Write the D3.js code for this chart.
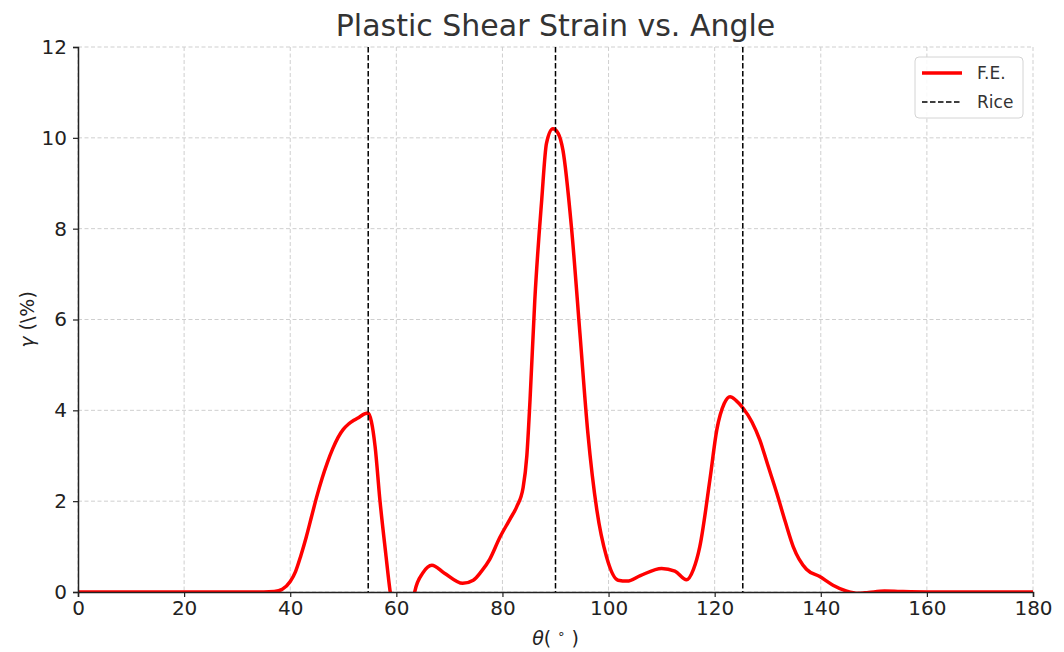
<!DOCTYPE html>
<html>
<head>
<meta charset="utf-8">
<script src="https://cdn.jsdelivr.net/npm/d3@7"></script>
<style>
  body { margin: 0; background: #fff; }
  text { font-family: "DejaVu Sans", sans-serif; }
</style>
</head>
<body>
<script>
const width = 1064,
  height = 652;

const margin = { top: 47, right: 31, bottom: 60, left: 78 };
const innerWidth = width - margin.left - margin.right;
const innerHeight = height - margin.top - margin.bottom;

// F.E. curve (angle in degrees, gamma in %)
const feAngle = [0, 10, 20, 30, 35, 37, 38.5, 40, 41, 42, 43, 44, 45, 46, 47, 48, 49, 50, 51, 52, 53, 54, 54.7, 55.3, 56, 56.9, 58, 58.8, 60, 61.5, 62.8, 63.5, 65, 66.7, 69, 72.5, 74.5, 76, 77.6, 79.5, 81.4, 82.7, 83.9, 84.6, 85.2, 86.1, 87.4, 88.3, 89.5, 90.5, 91.4, 93, 94.6, 96.1, 97.8, 99.6, 101.8, 103.5, 106, 110, 112.5, 114.7, 116, 117.2, 119.1, 120.4, 121.8, 122.9, 124, 125.4, 127, 128.5, 130, 131.7, 133.3, 134.8, 137.3, 139.8, 142.3, 144.9, 147, 149, 152, 155, 160, 170, 180];
const feGamma = [0, 0, 0, 0, 0, 0.01, 0.06, 0.23, 0.45, 0.8, 1.2, 1.65, 2.1, 2.5, 2.85, 3.15, 3.4, 3.58, 3.7, 3.78, 3.85, 3.92, 3.94, 3.75, 3.2, 2.03, 0.85, 0.04, -0.7, -0.9, -0.5, 0.02, 0.42, 0.59, 0.42, 0.19, 0.26, 0.45, 0.72, 1.2, 1.6, 1.88, 2.3, 3.0, 4.23, 6.43, 8.63, 9.88, 10.2, 10.1, 9.73, 8.04, 5.7, 3.5, 1.8, 0.78, 0.26, 0.24, 0.36, 0.52, 0.46, 0.27, 0.5, 1.0, 2.47, 3.57, 4.15, 4.3, 4.22, 4.04, 3.75, 3.35, 2.8, 2.18, 1.55, 1.0, 0.5, 0.34, 0.15, 0.02, -0.03, -0.01, 0.02, 0.01, 0, 0, 0];

// Rice predictions (vertical lines)
const riceAngles = [54.7, 90, 125.3];

const xTicks = [0, 20, 40, 60, 80, 100, 120, 140, 160, 180];
const yTicks = [0, 2, 4, 6, 8, 10, 12];

const svg = d3
  .select("body")
  .append("svg")
  .attr("width", width)
  .attr("height", height);

const mainG = svg
  .append("g")
  .attr("transform", `translate(${margin.left}, ${margin.top})`);

const xScale = d3.scaleLinear().domain([0, 180]).range([0, innerWidth]);
const yScale = d3.scaleLinear().domain([0, 12]).range([innerHeight, 0]);

// grid
mainG
  .append("g")
  .selectAll("line")
  .data(xTicks)
  .join("line")
  .attr("x1", d => xScale(d))
  .attr("x2", d => xScale(d))
  .attr("y1", 0)
  .attr("y2", innerHeight)
  .attr("stroke", "#cfcfcf")
  .attr("stroke-dasharray", "4,2.5");

mainG
  .append("g")
  .selectAll("line")
  .data(yTicks)
  .join("line")
  .attr("x1", 0)
  .attr("x2", innerWidth)
  .attr("y1", d => yScale(d))
  .attr("y2", d => yScale(d))
  .attr("stroke", "#cfcfcf")
  .attr("stroke-dasharray", "4,2.5");

svg
  .append("defs")
  .append("clipPath")
  .attr("id", "clip")
  .append("rect")
  .attr("width", innerWidth)
  .attr("height", innerHeight);

const plotG = mainG.append("g").attr("clip-path", "url(#clip)");

const feData = feAngle.map((a, i) => ({ a: a, g: feGamma[i] }));

const line = d3
  .line()
  .x(d => xScale(d.a))
  .y(d => yScale(d.g))
  .curve(d3.curveMonotoneX);

plotG
  .append("path")
  .datum(feData)
  .attr("d", line)
  .attr("fill", "none")
  .attr("stroke", "#ff0000")
  .attr("stroke-width", 3.5)
  .attr("stroke-linejoin", "round");

plotG
  .selectAll(".rice")
  .data(riceAngles)
  .join("line")
  .attr("class", "rice")
  .attr("x1", d => xScale(d))
  .attr("x2", d => xScale(d))
  .attr("y1", 0)
  .attr("y2", innerHeight)
  .attr("stroke", "#000")
  .attr("stroke-width", 1.5)
  .attr("stroke-dasharray", "5.5,2.5");

// axes
const xAxis = d3.axisBottom(xScale).tickValues(xTicks).tickSize(5).tickPadding(4);
const yAxis = d3.axisLeft(yScale).tickValues(yTicks).tickSize(5).tickPadding(6);

const gx = mainG
  .append("g")
  .attr("id", "x-axis")
  .attr("transform", `translate(0,${innerHeight})`)
  .call(xAxis);

const gy = mainG.append("g").attr("id", "y-axis").call(yAxis);

[gx, gy].forEach(g => {
  g.attr("fill", null).attr("font-size", null).attr("font-family", null);
  g.select(".domain").attr("fill", "none").attr("stroke", "#222").attr("stroke-width", 1.5);
  g.selectAll(".tick line").attr("stroke", "#222").attr("stroke-width", 1.2);
  g.selectAll(".tick text")
    .attr("fill", "#222")
    .attr("font-size", 20);
});

// axis labels
const xLabel = mainG
  .append("text")
  .attr("x", innerWidth / 2)
  .attr("y", innerHeight + 53)
  .attr("text-anchor", "middle")
  .attr("font-size", 19)
  .attr("fill", "#222");
xLabel.append("tspan").attr("font-style", "italic").text("θ");
xLabel.append("tspan").text("( ");
xLabel.append("tspan").attr("font-size", 13).attr("dy", -7).text("∘");
xLabel.append("tspan").attr("dy", 7).text(" )");

const yLabel = mainG
  .append("text")
  .attr("transform", `translate(-44,${innerHeight / 2}) rotate(-90)`)
  .attr("text-anchor", "middle")
  .attr("font-size", 19)
  .attr("fill", "#222");
yLabel.append("tspan").attr("font-style", "italic").text("γ");
yLabel.append("tspan").text(" (\\%)");

// title
svg
  .append("text")
  .attr("x", margin.left + innerWidth / 2)
  .attr("y", 36)
  .attr("text-anchor", "middle")
  .attr("font-size", 30)
  .attr("fill", "#333")
  .text("Plastic Shear Strain vs. Angle");

// legend
const legend = svg.append("g").attr("transform", "translate(915,57)");
legend
  .append("rect")
  .attr("width", 108)
  .attr("height", 61)
  .attr("rx", 4)
  .attr("fill", "#fff")
  .attr("fill-opacity", 0.85)
  .attr("stroke", "#d4d4d4");

legend
  .append("line")
  .attr("x1", 7)
  .attr("x2", 47)
  .attr("y1", 16)
  .attr("y2", 16)
  .attr("stroke", "#ff0000")
  .attr("stroke-width", 3.5);
legend
  .append("text")
  .attr("x", 62)
  .attr("y", 22)
  .attr("font-size", 17)
  .attr("fill", "#333")
  .text("F.E.");

legend
  .append("line")
  .attr("x1", 7)
  .attr("x2", 47)
  .attr("y1", 45)
  .attr("y2", 45)
  .attr("stroke", "#000")
  .attr("stroke-width", 1.5)
  .attr("stroke-dasharray", "5.5,2.5");
legend
  .append("text")
  .attr("x", 62)
  .attr("y", 51)
  .attr("font-size", 17)
  .attr("fill", "#333")
  .text("Rice");
</script>
</body>
</html>
